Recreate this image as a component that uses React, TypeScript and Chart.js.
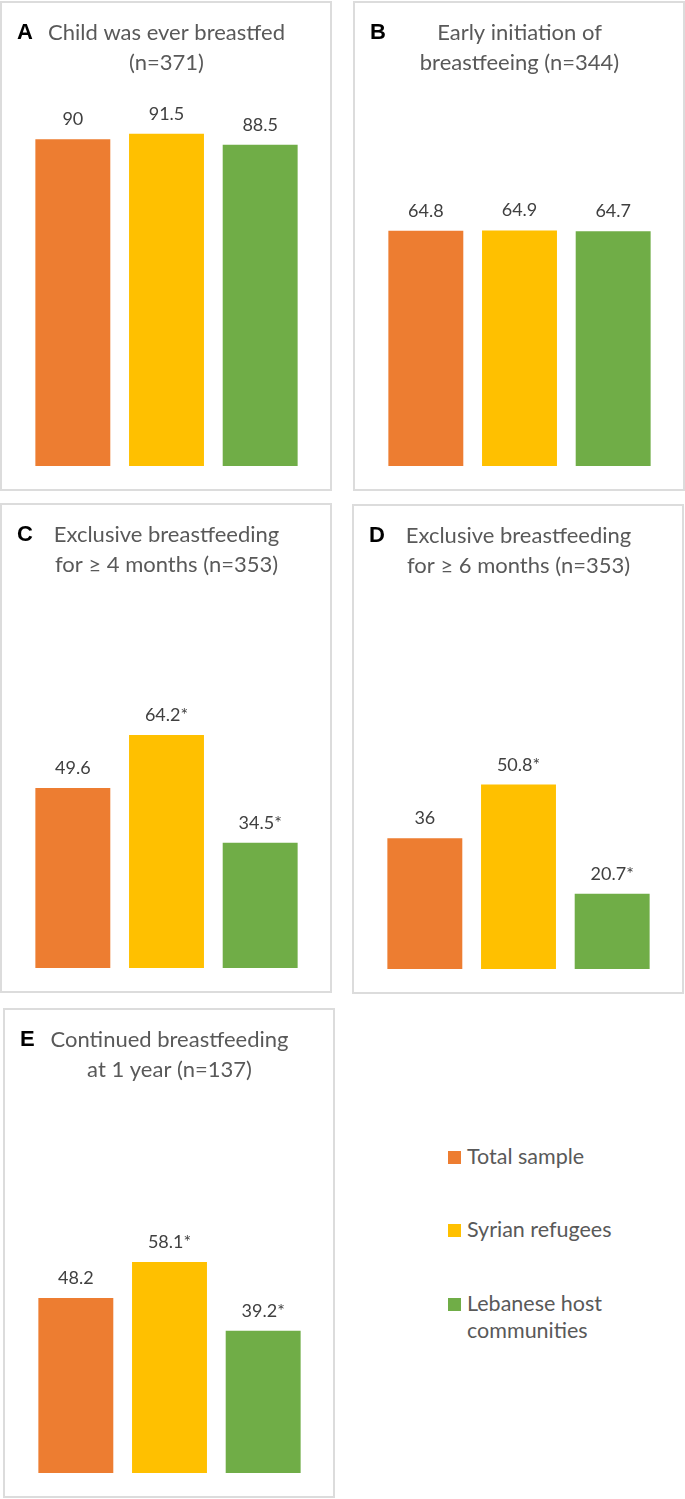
import React, { useEffect, useRef } from "react";
import { Chart, registerables } from "chart.js";

Chart.register(...registerables);

// ---------- data ----------
const groups = ["Total sample", "Syrian refugees", "Lebanese host communities"];
const groupColors = ["#ED7D31", "#FFC000", "#70AD47"];

const everBreastfed = [90, 91.5, 88.5];
const earlyInitiation = [64.8, 64.9, 64.7];
const exclusive4Months = [49.6, 64.2, 34.5];
const exclusive6Months = [36, 50.8, 20.7];
const continued1Year = [48.2, 58.1, 39.2];

const noSignificance = [false, false, false];
const refugeeHostSignificance = [false, true, true];

const titleA = ["Child was ever breastfed", "(n=371)"];
const titleB = ["Early initiation of", "breastfeeing (n=344)"];
const titleC = ["Exclusive breastfeeding", "for \u2265 4 months (n=353)"];
const titleD = ["Exclusive breastfeeding", "for \u2265 6 months (n=353)"];
const titleE = ["Continued breastfeeding", "at 1 year (n=137)"];

// ---------- plugin: value labels + panel letter ----------
const annotatePlugin = {
  id: "annotate",
  afterDatasetsDraw(chart: any, _args: any, opts: any) {
    const ctx = chart.ctx;
    const meta = chart.getDatasetMeta(0);
    const data = chart.data.datasets[0].data;
    ctx.save();
    ctx.font = "18px Lato";
    ctx.fillStyle = "#404040";
    ctx.textAlign = "center";
    ctx.textBaseline = "alphabetic";
    meta.data.forEach((bar: any, i: number) => {
      const mark = opts.marks && opts.marks[i] ? "*" : "";
      ctx.fillText(String(data[i]) + mark, bar.x, bar.y - 14);
    });
    ctx.font = "bold 22px 'Liberation Sans', Arial, sans-serif";
    ctx.fillStyle = "#000000";
    ctx.textAlign = "left";
    ctx.fillText(opts.letter, 17, 38);
    ctx.restore();
  },
};

type PanelProps = {
  letter: string;
  title: string[];
  values: number[];
  marks: boolean[];
  left: number;
  top: number;
  width: number;
  height: number;
};

function Panel({ letter, title, values, marks, left, top, width, height }: PanelProps) {
  const ref = useRef<HTMLCanvasElement | null>(null);
  useEffect(() => {
    if (!ref.current) return;
    const chart = new Chart(ref.current, {
      type: "bar",
      data: {
        labels: groups,
        datasets: [
          {
            data: values,
            backgroundColor: groupColors,
            borderWidth: 0,
            categoryPercentage: 1,
            barPercentage: 0.8,
          },
        ],
      },
      options: {
        responsive: false,
        animation: false,
        devicePixelRatio: 1,
        layout: { padding: { left: 26, right: 25, top: 0, bottom: height - 465 } },
        scales: {
          x: { display: false },
          y: { display: false, min: 0, max: 100 },
        },
        plugins: {
          legend: { display: false },
          tooltip: { enabled: false },
          title: {
            display: true,
            text: title,
            color: "#595959",
            font: { family: "Lato", size: 22, weight: "normal", lineHeight: "30px" },
            padding: { top: 17, bottom: 25 },
          },
          annotate: { letter, marks },
        } as any,
      },
      plugins: [annotatePlugin],
    });
    return () => chart.destroy();
  }, []);
  return (
    <>
      <div
        style={{
          position: "absolute",
          left,
          top,
          width,
          height,
          boxSizing: "border-box",
          border: "2px solid #dcdcdc",
          background: "#ffffff",
        }}
      />
      <canvas
        ref={ref}
        width={width}
        height={height}
        style={{ position: "absolute", left, top, width, height }}
      />
    </>
  );
}

const legendSquareTops = [1151, 1224, 1298];

export default function App() {
  return (
    <div
      style={{
        position: "absolute",
        left: 0,
        top: 0,
        width: 685,
        height: 1499,
        background: "#ffffff",
        overflow: "hidden",
      }}
    >
      <Panel letter="A" title={titleA} values={everBreastfed} marks={noSignificance} left={0} top={1} width={332} height={490} />
      <Panel letter="B" title={titleB} values={earlyInitiation} marks={noSignificance} left={353} top={1} width={332} height={490} />
      <Panel letter="C" title={titleC} values={exclusive4Months} marks={refugeeHostSignificance} left={0} top={503} width={332} height={490} />
      <Panel letter="D" title={titleD} values={exclusive6Months} marks={refugeeHostSignificance} left={352} top={504} width={332} height={490} />
      <Panel letter="E" title={titleE} values={continued1Year} marks={refugeeHostSignificance} left={3} top={1008} width={332} height={490} />
      {groups.map((g, i) => (
        <React.Fragment key={g}>
          <div
            style={{
              position: "absolute",
              left: 448,
              top: legendSquareTops[i],
              width: 13,
              height: 13,
              background: groupColors[i],
            }}
          />
          <div
            style={{
              position: "absolute",
              left: 467,
              top: legendSquareTops[i] - 8,
              width: 175,
              font: "21.5px Lato",
              lineHeight: "27px",
              color: "#595959",
            }}
          >
            {g}
          </div>
        </React.Fragment>
      ))}
    </div>
  );
}
